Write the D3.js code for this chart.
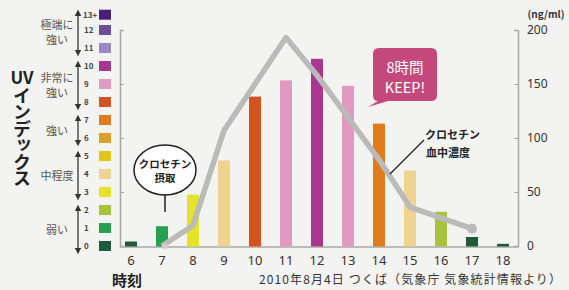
<!DOCTYPE html>
<html lang="ja">
<head>
<meta charset="UTF-8">
<title>UVインデックスとクロセチン血中濃度</title>
<script src="https://d3js.org/d3.v7.min.js"></script>
<style>
    body { margin: 0; padding: 0; background: #f3f3f1; }
    svg { display: block; font-family: "Noto Sans CJK JP", "Noto Sans", sans-serif; }
    .axis path, .axis line { stroke: #a8a8a8; }
    .axis text { fill: #333; }
    .vtitle { writing-mode: vertical-rl; }
</style>
</head>
<body>
<svg width="569" height="290"></svg>
<script>
    // 時刻とUVインデックス
    const hours = [6, 7, 8, 9, 10, 11, 12, 13, 14, 15, 16, 17, 18];
    const uvValues = [0.25, 1.1, 2.85, 4.75, 8.3, 9.2, 10.4, 8.9, 6.8, 4.2, 1.9, 0.5, 0.12];
    const uvLevels = [0, 1, 3, 4, 8, 9, 10, 9, 7, 4, 2, 0, 0];

    // クロセチン血中濃度 (ng/ml)
    const concHours = [7, 8, 9, 10, 11, 12, 13, 14, 15, 16, 17];
    const concValues = [0, 19, 107, 150, 193, 158, 119, 80, 36, 26, 16];

    // UVレベルの色と目盛
    const uvColors = ["#1f5a3a", "#24a04e", "#a5c43b", "#e3e32c", "#f0d391", "#e3c31c", "#dca02a",
                      "#e07b1e", "#d3521f", "#e09ac0", "#a8378f", "#9c87c4", "#6e4e98", "#4a1e7a"];
    const uvTickLabels = ["0", "1", "2", "3", "4", "5", "6", "7", "8", "9", "10", "11", "12", "13+"];
    const concTicks = [0, 50, 100, 150, 200];

    const catLabels = [["弱い"], ["中程度"], ["強い"], ["非常に", "強い"], ["極端に", "強い"]];
    const catRanges = [[0, 2], [3, 5], [6, 7], [8, 10], [11, 13]];

    const svg = d3.select("svg");
    const plotLeft = 120, plotRight = 518, plotTop = 30, plotBottom = 246;

    const x = d3.scalePoint().domain(hours).range([131, 503]);
    const yUV = d3.scaleLinear().domain([0, 12]).range([plotBottom, plotTop]);
    const yC = d3.scaleLinear().domain([0, 200]).range([plotBottom, plotTop]);

    // 複数行テキスト
    function multiline(g, lines, xPos, yPos, lineH) {
        const t = g.append("text").attr("x", xPos).attr("y", yPos);
        lines.forEach((s, j) => {
            t.append("tspan").attr("x", xPos).attr("dy", j === 0 ? 0 : lineH).text(s);
        });
        return t;
    }

    // 左の括弧軸
    svg.append("g")
        .attr("class", "axis")
        .attr("transform", `translate(${plotLeft},0)`)
        .call(d3.axisRight(yUV).tickValues([0, 3, 6, 9, 12]).tickSize(4).tickFormat(""))
        .call(g => g.select(".domain").attr("stroke-width", 1.5));

    // 右軸
    svg.append("g")
        .attr("class", "axis")
        .attr("transform", `translate(${plotRight},0)`)
        .call(d3.axisRight(yC).tickValues(concTicks).tickSize(-4).tickPadding(9))
        .call(g => g.select(".domain").attr("stroke-width", 1.5))
        .call(g => g.selectAll("text").attr("font-size", 12).attr("font-family", "Noto Sans, sans-serif"));

    svg.append("text")
        .attr("x", 546).attr("y", 18)
        .attr("text-anchor", "middle")
        .attr("font-size", 10).attr("font-weight", 700).attr("fill", "#333")
        .text("(ng/ml)");

    // 横軸
    svg.append("line")
        .attr("x1", plotLeft).attr("x2", plotRight)
        .attr("y1", plotBottom + 1).attr("y2", plotBottom + 1)
        .attr("stroke", "#a8a8a8").attr("stroke-width", 1.5);

    svg.append("g").selectAll("text")
        .data(hours)
        .join("text")
        .attr("x", d => x(d))
        .attr("y", 265)
        .attr("text-anchor", "middle")
        .attr("font-size", 13)
        .attr("fill", "#333")
        .attr("font-family", "Noto Sans, sans-serif")
        .text(d => d);

    // 棒
    svg.append("g").selectAll("rect")
        .data(hours.map((h, i) => ({ h, v: uvValues[i], lvl: uvLevels[i] })))
        .join("rect")
        .attr("x", d => x(d.h) - 6)
        .attr("width", 12)
        .attr("y", d => yUV(d.v))
        .attr("height", d => plotBottom + 0.5 - yUV(d.v))
        .attr("fill", d => uvColors[d.lvl]);

    // 血中濃度の線
    const concData = concHours.map((h, i) => ({ h, v: concValues[i] }));
    svg.append("path")
        .datum(concData)
        .attr("fill", "none")
        .attr("stroke", "#bababa")
        .attr("stroke-width", 5.5)
        .attr("stroke-linejoin", "round")
        .attr("d", d3.line().x(d => x(d.h)).y(d => yC(d.v)));

    svg.append("circle")
        .attr("cx", x(concHours[0]) + 3).attr("cy", yC(concValues[0]))
        .attr("r", 3).attr("fill", "#dcc6d2");
    svg.append("circle")
        .attr("cx", x(concHours[concHours.length - 1])).attr("cy", yC(concValues[concValues.length - 1]))
        .attr("r", 5).attr("fill", "#bababa");

    // UV凡例
    const legend = svg.append("g");
    legend.selectAll("rect")
        .data(uvColors)
        .join("rect")
        .attr("x", 99)
        .attr("y", (d, i) => yUV(Math.min(i, 12.85)) - 5)
        .attr("width", 12)
        .attr("height", 10)
        .attr("fill", d => d);
    legend.selectAll("text")
        .data(uvTickLabels)
        .join("text")
        .attr("x", (d, i) => i === 13 ? 83 : 84)
        .attr("y", (d, i) => yUV(Math.min(i, 12.85)) + 3)
        .attr("font-size", 8)
        .attr("font-weight", 700)
        .attr("fill", "#444")
        .text(d => d);

    // 矢印
    const defs = svg.append("defs");
    defs.append("marker")
        .attr("id", "arr")
        .attr("viewBox", "0 0 10 10")
        .attr("refX", 5).attr("refY", 5)
        .attr("markerWidth", 5).attr("markerHeight", 5)
        .attr("orient", "auto-start-reverse")
        .append("path").attr("d", "M0,0L10,5L0,10z").attr("fill", "#333");

    catRanges.forEach((r, i) => {
        const y1 = yUV(Math.min(r[1], 12.85)) - 2;
        const y2 = yUV(r[0]) + 5;
        svg.append("line")
            .attr("x1", 78).attr("x2", 78)
            .attr("y1", y1).attr("y2", y2)
            .attr("stroke", "#333").attr("stroke-width", 1.3)
            .attr("marker-start", "url(#arr)")
            .attr("marker-end", "url(#arr)");
        const mid = (y1 + y2) / 2;
        const lines = catLabels[i];
        multiline(svg, lines, 57, mid + 4 - (lines.length - 1) * 7.5, 15)
            .attr("text-anchor", "middle")
            .attr("font-size", 11)
            .attr("fill", "#555");
    });

    // 縦書きタイトル
    svg.append("text")
        .attr("x", 22).attr("y", 84)
        .attr("text-anchor", "middle")
        .attr("font-size", 17).attr("font-weight", 700).attr("fill", "#222")
        .text("UV");
    svg.append("text")
        .attr("class", "vtitle")
        .attr("x", 22).attr("y", 87)
        .attr("font-size", 18).attr("font-weight", 700).attr("fill", "#222")
        .attr("letter-spacing", -1.5)
        .text("インデックス");

    // 下の注記
    svg.append("text")
        .attr("x", 112).attr("y", 286)
        .attr("font-size", 15).attr("font-weight", 700).attr("fill", "#222")
        .text("時刻");
    svg.append("text")
        .attr("x", 259).attr("y", 284)
        .attr("font-size", 12).attr("fill", "#333")
        .attr("textLength", 302)
        .text("2010年8月4日 つくば（気象庁 気象統計情報より）");

    // クロセチン摂取の吹き出し
    svg.append("ellipse")
        .attr("cx", 165).attr("cy", 170).attr("rx", 31).attr("ry", 25)
        .attr("fill", "#fff").attr("stroke", "#222").attr("stroke-width", 1.5);
    svg.append("line")
        .attr("x1", 165).attr("x2", 165).attr("y1", 195).attr("y2", 212)
        .attr("stroke", "#222").attr("stroke-width", 1.5);
    multiline(svg, ["クロセチン", "摂取"], 165, 168, 14)
        .attr("text-anchor", "middle")
        .attr("font-size", 10.5).attr("font-weight", 700).attr("fill", "#222");

    // 8時間 KEEP! の吹き出し
    svg.append("path")
        .attr("d", "M379,48H431Q437,48 437,54V95Q437,101 431,101H388L368,107L378,101Q373,101 373,95V54Q373,48 379,48Z")
        .attr("fill", "#c4497a");
    multiline(svg, ["8時間", "KEEP!"], 405, 72.5, 20)
        .attr("text-anchor", "middle")
        .attr("font-size", 14.5).attr("fill", "#fff");

    // クロセチン血中濃度ラベル
    svg.append("line")
        .attr("x1", 424).attr("y1", 140).attr("x2", 390).attr("y2", 174)
        .attr("stroke", "#222").attr("stroke-width", 1.3);
    const lbl = multiline(svg, ["クロセチン", "血中濃度"], 425, 139, 18)
        .attr("font-size", 11).attr("font-weight", 700).attr("fill", "#222");
    lbl.select("tspan:nth-child(2)").attr("x", 426);
</script>
</body>
</html>
